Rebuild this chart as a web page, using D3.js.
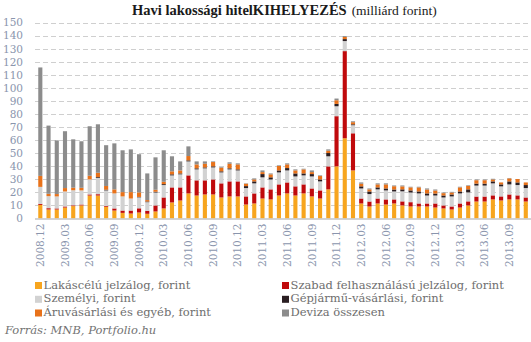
<!DOCTYPE html>
<html>
<head>
<meta charset="utf-8">
<script src="https://cdn.jsdelivr.net/npm/d3@7"></script>
<style>
  html, body { margin: 0; padding: 0; background: #fff; }
  svg { display: block; }
</style>
</head>
<body>
<div id="chart"></div>
<script>
const months = ["2008.12",
  "2009.01","2009.02","2009.03","2009.04","2009.05","2009.06","2009.07","2009.08","2009.09","2009.10","2009.11","2009.12",
  "2010.01","2010.02","2010.03","2010.04","2010.05","2010.06","2010.07","2010.08","2010.09","2010.10","2010.11","2010.12",
  "2011.01","2011.02","2011.03","2011.04","2011.05","2011.06","2011.07","2011.08","2011.09","2011.10","2011.11","2011.12",
  "2012.01","2012.02","2012.03","2012.04","2012.05","2012.06","2012.07","2012.08","2012.09","2012.10","2012.11","2012.12",
  "2013.01","2013.02","2013.03","2013.04","2013.05","2013.06","2013.07","2013.08","2013.09","2013.10","2013.11"];

const tickMonths = ["2008.12","2009.03","2009.06","2009.09","2009.12","2010.03","2010.06","2010.09","2010.12",
  "2011.03","2011.06","2011.09","2011.12","2012.03","2012.06","2012.09","2012.12","2013.03","2013.06","2013.09"];

const yTicks = [0,10,20,30,40,50,60,70,80,90,100,110,120,130,140,150];

const seriesNames = ["Lakáscélú jelzálog, forint","Szabad felhasználású jelzálog, forint","Személyi, forint",
  "Gépjármű-vásárlási, forint","Áruvásárlási és egyéb, forint","Deviza összesen"];
const seriesColors = ["#F7A51E","#C00A0C","#D2D2D2","#2A1E22","#E8721A","#8C8C8C"];

const lakas = [10.4,6.9,6.9,8.4,9.5,10.0,17.6,17.6,9.0,6.1,4.3,3.8,
  4.6,3.6,5.4,7.7,12.3,13.8,19.2,17.6,18.4,18.4,16.1,16.9,
  16.9,10.7,11.5,15.3,14.6,17.6,19.2,17.6,19.2,16.9,15.3,22.3,
  39.9,61.4,36.8,11.5,9.2,11.5,10.7,11.5,10.0,9.2,9.2,9.2,
  8.4,7.7,6.9,8.4,10.0,13.0,13.0,14.6,13.8,14.6,14.6,13.0];
const szabad = [0.8,1.0,0.8,0.8,0.6,0.7,0.8,1.0,0.7,1.6,1.8,2.3,
  3.2,2.3,4.6,8.4,11.5,10.0,13.8,11.6,10.8,11.5,10.8,11.5,
  11.5,6.2,7.7,8.5,7.7,8.5,8.4,7.0,6.9,6.1,6.2,17.6,
  38.4,66.7,28.4,3.8,3.8,3.8,3.9,3.1,3.1,3.3,2.3,2.3,
  3.1,2.3,2.3,3.1,3.1,3.8,3.8,3.1,3.1,3.8,3.1,3.1];
const szemelyi = [13.0,9.2,9.2,11.5,11.5,10.8,11.5,12.5,11.8,11.5,10.8,9.2,
  8.4,6.6,9.9,9.5,9.2,10.0,10.7,8.4,9.2,9.2,8.4,9.2,
  8.4,6.4,7.7,7.7,7.6,9.2,9.2,7.6,6.9,9.2,6.9,7.7,
  7.6,7.7,6.2,7.7,5.7,7.0,6.9,6.1,7.7,7.4,7.7,6.1,
  6.1,6.1,7.7,7.7,6.9,8.4,8.4,9.2,7.7,7.7,7.9,7.2];
const gepjarmu = [0,0,0,0,0,0,0,0.6,0.6,0,0,0,
  0.3,0.5,0.6,0.7,0.8,0.7,0.8,0.8,0.7,0.8,0.8,0.8,
  0.8,1.5,1.5,2.5,1.6,1.5,1.8,2.3,1.5,1.8,1.5,2.5,
  1.8,1.5,0.7,1.6,2.0,1.5,1.5,1.5,1.5,1.6,1.5,1.6,
  1.5,1.5,1.5,1.5,2.3,1.5,1.5,1.5,1.5,2.3,2.0,2.3];
const aru = [8.4,1.8,1.8,2.6,2.0,2.0,2.8,3.3,2.8,3.1,3.3,4.9,
  3.5,1.1,1.5,1.8,2.3,2.3,3.3,3.0,2.8,3.3,2.8,3.5,
  3.8,1.8,1.5,1.5,2.3,3.4,2.8,2.3,3.1,1.5,2.6,1.8,
  2.8,1.6,1.6,2.0,1.6,2.3,3.1,2.5,2.3,2.3,3.1,3.0,
  2.3,1.8,1.5,3.1,2.6,2.6,2.6,1.5,1.5,2.3,2.6,2.0];
const deviza = [83.0,52.2,41.1,43.5,37.0,35.6,37.9,37.1,31.2,35.2,32.0,32.7,
  29.2,20.4,24.8,24.1,11.5,6.9,7.4,2.3,1.8,0.5,0.5,1.1,
  0.8,0.3,0.8,1.3,0.7,0.5,0.8,0.8,0.5,1.3,0.5,1.0,
  1.3,0.7,0.7,1.0,0.7,0.8,0.8,0.6,0.7,0.5,0.5,0.8,
  0.8,0.5,0.5,0.5,0.5,0.5,0.5,0.5,0,0.3,0,0];

const seriesData = [lakas, szabad, szemelyi, gepjarmu, aru, deviza];
const keys = ["lakas","szabad","szemelyi","gepjarmu","aru","deviza"];
const table = months.map((m, i) => {
  const row = { month: m };
  keys.forEach((k, j) => row[k] = seriesData[j][i]);
  return row;
});

const W = 531, H = 342;
const svg = d3.select("#chart").append("svg").attr("width", W).attr("height", H);

const x = d3.scaleBand().domain(months).range([36.2, 529.9]).paddingInner(0.5).paddingOuter(0.25);
const y = d3.scaleLinear().domain([0, 150]).range([218.5, 22.5]);

const tickFont = "DejaVu Serif";
const tickColor = "#8a95ad";

// gridlines
svg.append("g").selectAll("line").data(yTicks.filter(d => d > 0)).join("line")
  .attr("x1", 35).attr("x2", 531)
  .attr("y1", d => Math.round(y(d)) + 0.5).attr("y2", d => Math.round(y(d)) + 0.5)
  .attr("stroke", "#cfcfcf").attr("stroke-width", 1).attr("stroke-dasharray", "5,3");

// y axis labels
const yAxis = d3.axisLeft(y).tickValues(yTicks).tickSize(0).tickPadding(0);
const yg = svg.append("g").attr("transform", "translate(23,0)").call(yAxis);
yg.select(".domain").remove();
yg.selectAll("text").attr("font-family", tickFont).attr("font-size", "10.5px").attr("fill", tickColor);

// bars
const stack = d3.stack().keys(keys);
const layers = stack(table);
svg.append("g").selectAll("g").data(layers).join("g")
  .attr("fill", (d, i) => seriesColors[i])
  .selectAll("rect").data(d => d).join("rect")
  .attr("x", d => x(d.data.month))
  .attr("width", x.bandwidth())
  .attr("y", d => y(d[1]))
  .attr("height", d => Math.max(0, y(d[0]) - y(d[1])));

// baseline
svg.append("line").attr("x1", 35).attr("x2", 531)
  .attr("y1", y(0) + 0.5).attr("y2", y(0) + 0.5)
  .attr("stroke", "#c4c4c4").attr("stroke-width", 1.5);

// x axis labels
const xAxis = d3.axisBottom(x).tickValues(tickMonths).tickSize(0).tickPadding(0);
const xg = svg.append("g").attr("transform", `translate(0,${y(0) + 5})`).call(xAxis);
xg.select(".domain").remove();
xg.selectAll("text")
  .attr("font-family", tickFont).attr("font-size", "10.5px").attr("fill", tickColor)
  .attr("transform", "rotate(-90)")
  .attr("text-anchor", "end").attr("x", 0).attr("y", 0).attr("dy", "0.35em");

// title
const title = svg.append("text").attr("x", 132).attr("y", 15)
  .attr("font-family", "Liberation Serif").attr("fill", "#1a1a1a");
title.append("tspan").attr("font-weight", "bold").attr("font-size", "14.5px").text("Havi lakossági hitelKIHELYEZÉS");
title.append("tspan").attr("font-size", "13.5px").attr("dx", 5).text("(milliárd forint)");

// legend
const legendPos = [[35, 288.5],[282, 288.5],[35, 302.3],[282, 302.3],[35, 316],[282, 316]];
const legend = svg.append("g").selectAll("g").data(seriesNames).join("g")
  .attr("transform", (d, i) => `translate(${legendPos[i][0]},${legendPos[i][1]})`);
legend.append("rect").attr("x", 0).attr("y", -6.5).attr("width", 7).attr("height", 7)
  .attr("fill", (d, i) => seriesColors[i]);
legend.append("text").attr("x", 8.5).attr("y", 0)
  .attr("font-family", tickFont).attr("font-size", "11.5px").attr("fill", "#6e6e6e")
  .text(d => d);

// source
svg.append("text").attr("x", 5).attr("y", 334)
  .attr("font-family", tickFont).attr("font-style", "italic").attr("font-size", "11.5px")
  .attr("fill", "#737373").text("Forrás: MNB, Portfolio.hu");
</script>
</body>
</html>
